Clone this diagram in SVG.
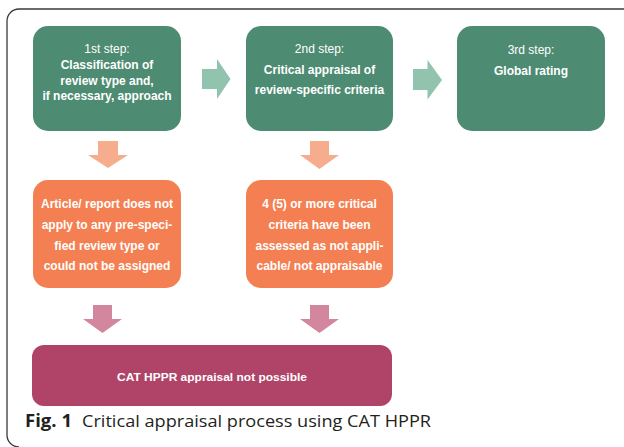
<svg xmlns="http://www.w3.org/2000/svg" width="624" height="447" viewBox="0 0 624 447">
<style>
.frame{fill:none;stroke:#3a3a3a;stroke-width:1.3}
.green{fill:#4e8b73}
.orange{fill:#f47f52}
.pink{fill:#b04468}
.arR{fill:#92c3ae}
.arS{fill:#f6ad8e}
.arP{fill:#d3879f}
text{font-family:"Liberation Sans",Arial,sans-serif;fill:#ffffff;text-anchor:middle}
.b{font-weight:bold;font-size:12px}
.r{font-size:12px}
.cap{font-family:"Open Sans","Noto Sans",sans-serif;fill:#231f20;text-anchor:start;font-size:17px}
</style>
<rect width="624" height="447" fill="#ffffff"/>
<path class="frame" d="M624,9 H19 A12,12 0 0 0 7,21 V435 A12,12 0 0 0 19,447"/>

<g id="step1">
<rect class="green" x="33" y="26" width="148" height="105" rx="15"/>
<text class="r" x="107" y="53">1st step:</text>
<text class="b" x="107" y="68.5">Classification of</text>
<text class="b" x="107" y="84.5">review type and,</text>
<text class="b" x="107" y="100">if necessary, approach</text>
</g>
<g id="step2">
<rect class="green" x="246" y="26" width="147" height="105" rx="15"/>
<text class="r" x="319.5" y="53">2nd step:</text>
<text class="b" x="319.5" y="73.5">Critical appraisal of</text>
<text class="b" x="319.5" y="94">review-specific criteria</text>
</g>
<g id="step3">
<rect class="green" x="457" y="26" width="148" height="105" rx="15"/>
<text class="r" x="531" y="54">3rd step:</text>
<text class="b" x="531" y="74.5">Global rating</text>
</g>
<g id="fail1">
<rect class="orange" x="33" y="180" width="148" height="108" rx="15"/>
<text class="b" x="107" y="208">Article/ report does not</text>
<text class="b" x="107" y="228.5">apply to any pre-speci-</text>
<text class="b" x="107" y="249.5">fied review type or</text>
<text class="b" x="107" y="270">could not be assigned</text>
</g>
<g id="fail2">
<rect class="orange" x="246" y="180" width="147" height="108" rx="15"/>
<text class="b" x="319.5" y="208">4 (5) or more critical</text>
<text class="b" x="319.5" y="228.5">criteria have been</text>
<text class="b" x="319.5" y="249.5">assessed as not appli-</text>
<text class="b" x="319.5" y="270">cable/ not appraisable</text>
</g>
<g id="notpossible">
<rect class="pink" x="32" y="345" width="360" height="61" rx="12"/>
<text class="b" x="212" y="381" textLength="190" lengthAdjust="spacingAndGlyphs" style="font-size:11.5px">CAT HPPR appraisal not possible</text>
</g>

<g id="connectors">
<polygon class="arR" points="202,69 217,69 217,59 230.5,79 217,99 217,89 202,89"/>
<polygon class="arR" points="413,69 427.5,69 427.5,60 442,80 427.5,99.5 427.5,90 413,90"/>
<polygon class="arS" points="98,141 118,141 118,155 128,155 108,168 88,155 98,155"/>
<polygon class="arS" points="310,141 329,141 329,155 339,155 319.5,169 300,155 310,155"/>
<polygon class="arP" points="93,305 112,305 112,319 122,319 102.5,333 83,319 93,319"/>
<polygon class="arP" points="310,305 329,305 329,319 339,319 319.5,333 300,319 310,319"/>
</g>

<text class="cap" x="25" y="427"><tspan font-weight="bold" textLength="47" lengthAdjust="spacingAndGlyphs">Fig. 1</tspan><tspan x="82" textLength="349" lengthAdjust="spacingAndGlyphs">Critical appraisal process using CAT HPPR</tspan></text>
</svg>
